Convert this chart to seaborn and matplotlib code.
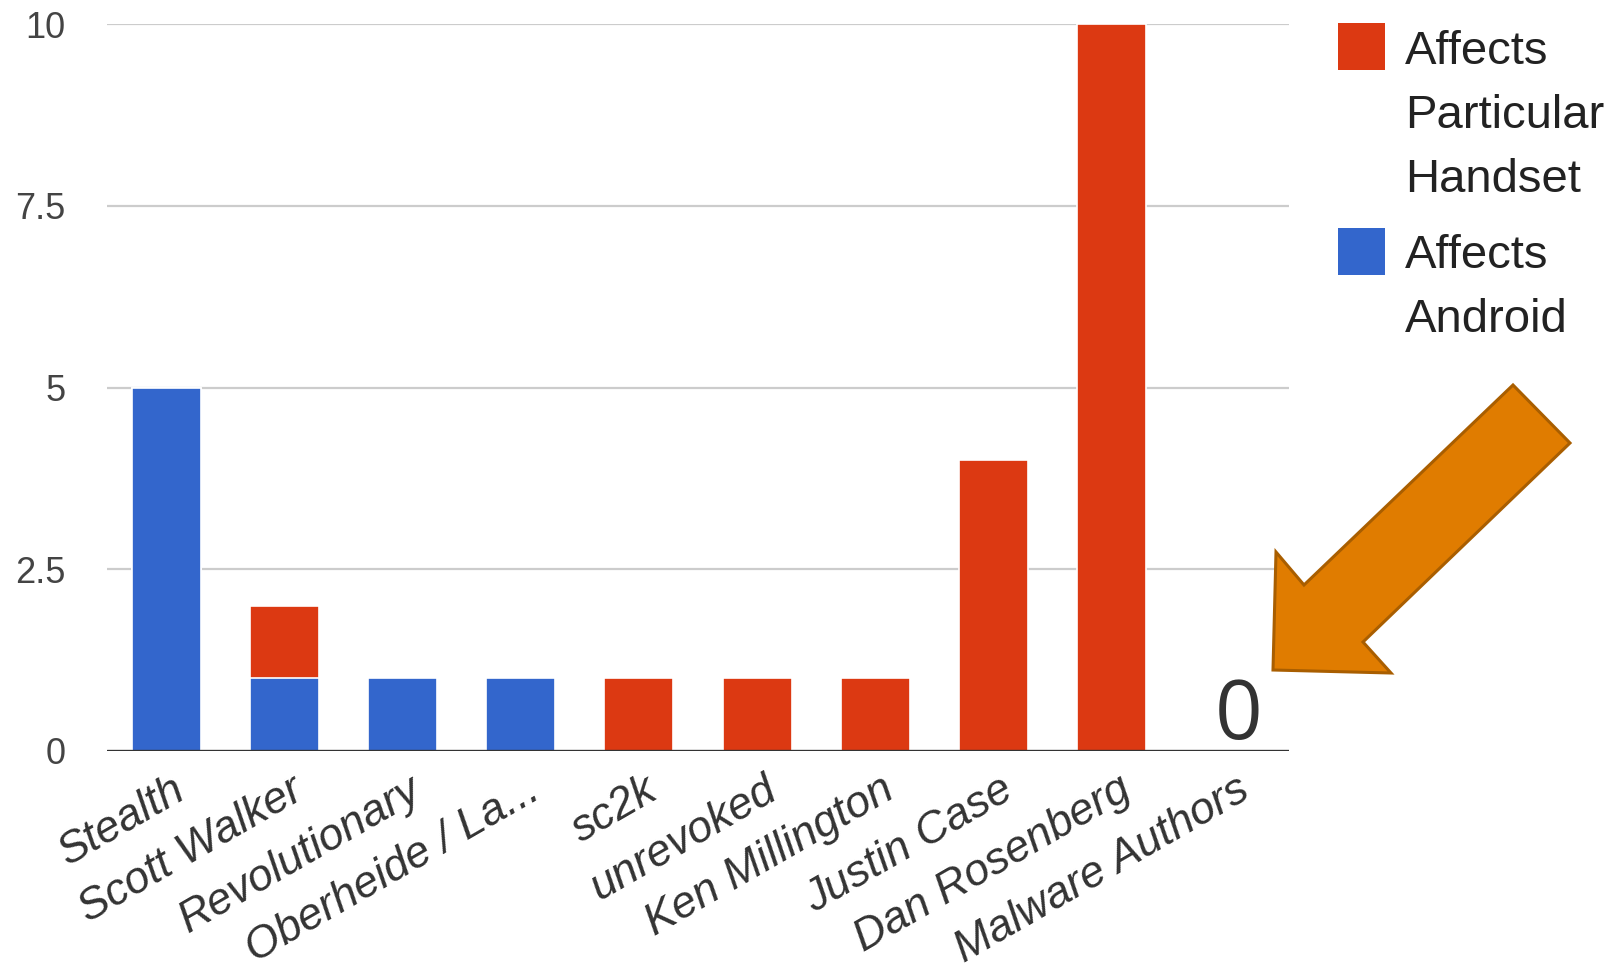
import matplotlib
matplotlib.use("Agg")
import matplotlib.pyplot as plt
import matplotlib.transforms as mtransforms
from matplotlib.patches import Polygon, Rectangle
import seaborn as sns
import pandas as pd

# Exploit counts per researcher, split by scope
categories = ["Stealth", "Scott Walker", "Revolutionary", "Oberheide / La...",
              "sc2k", "unrevoked", "Ken Millington", "Justin Case",
              "Dan Rosenberg", "Malware Authors"]
affects_android = [5, 1, 1, 1, 0, 0, 0, 0, 0, 0]
affects_handset = [0, 1, 0, 0, 1, 1, 1, 4, 10, 0]
y_ticks = [0, 2.5, 5, 7.5, 10]
y_tick_labels = ["0", "2.5", "5", "7.5", "10"]
series_labels = [["Affects", "Particular", "Handset"], ["Affects", "Android"]]
callout_text = "0"

RED = "#DC3912"
BLUE = "#3366CC"

df = pd.DataFrame({
    "name": categories,
    "android": affects_android,
    "handset": affects_handset,
})
df["total"] = df["android"] + df["handset"]

sns.set_theme(style="white")
plt.rcParams["font.family"] = ["Liberation Sans", "DejaVu Sans"]

W, H = 1623, 968
fig = plt.figure(figsize=(W / 100, H / 100), dpi=100)
ax = fig.add_axes([107 / W, 1 - 751 / H, (1289 - 107) / W, (751 - 24) / H])

# stacked bars: full height in red, Android share in blue over it
sns.barplot(data=df, x="name", y="total", color=RED, saturation=1, width=0.585,
            edgecolor="white", linewidth=1.2, ax=ax, zorder=2)
sns.barplot(data=df, x="name", y="android", color=BLUE, saturation=1, width=0.585,
            edgecolor="white", linewidth=1.2, ax=ax, zorder=3)

ax.set_xlim(-0.5, len(categories) - 0.5)
ax.set_ylim(0, 10)
ax.set_yticks(y_ticks)
ax.set_yticklabels(y_tick_labels)
ax.set_xlabel("")
ax.set_ylabel("")
for s in ax.spines.values():
    s.set_visible(False)

for yv in y_ticks[1:]:
    ax.axhline(yv, color="#CCCCCC", lw=1.6, zorder=0)
ax.axhline(0, color="#333333", lw=2.4, zorder=5)

ax.tick_params(axis="y", length=0, pad=30, labelsize=26, labelcolor="#444444")
ax.tick_params(axis="x", length=0, pad=13, labelsize=32, labelcolor="#333333")
ax.set_xticks(range(len(categories)))
ax.set_xticklabels(categories, rotation=30, ha="right", rotation_mode="anchor",
                   fontstyle="italic")
shift = mtransforms.ScaledTranslation(4 / 72, 0, fig.dpi_scale_trans)
for lbl in ax.get_xticklabels():
    lbl.set_transform(lbl.get_transform() + shift)

# value callout for the empty bar
ax.annotate(callout_text, xy=(9, 0), xytext=(6, 9), textcoords="offset points",
            ha="center", va="baseline", fontsize=60, color="#333333",
            family=["Open Sans", "DejaVu Sans"], zorder=6)

# legend
def fx(px):
    return px / W

def fy(py):
    return 1 - py / H

legend_colors = [RED, BLUE]
square_tops = [23, 228]
baselines = [[64, 128, 192], [268, 332]]
for color, top, lines, bls in zip(legend_colors, square_tops, series_labels, baselines):
    fig.patches.append(Rectangle((fx(1338), fy(top + 47)), 47 / W, 47 / H,
                                 transform=fig.transFigure, facecolor=color,
                                 edgecolor="none"))
    for line, bl in zip(lines, bls):
        fig.text(fx(1405), fy(bl), line, fontsize=34, color="#222222",
                 ha="left", va="baseline")

# orange pointer arrow
arrow_px = [(1513, 385), (1570, 443), (1363, 642), (1391, 673),
            (1273, 670), (1276, 552), (1304, 585)]
arrow = Polygon([(fx(x), fy(y)) for x, y in arrow_px], closed=True,
                transform=fig.transFigure, facecolor="#E07C00",
                edgecolor="#A95E00", linewidth=2.2, zorder=10)
fig.patches.append(arrow)

fig.savefig("out.png", dpi=100)
